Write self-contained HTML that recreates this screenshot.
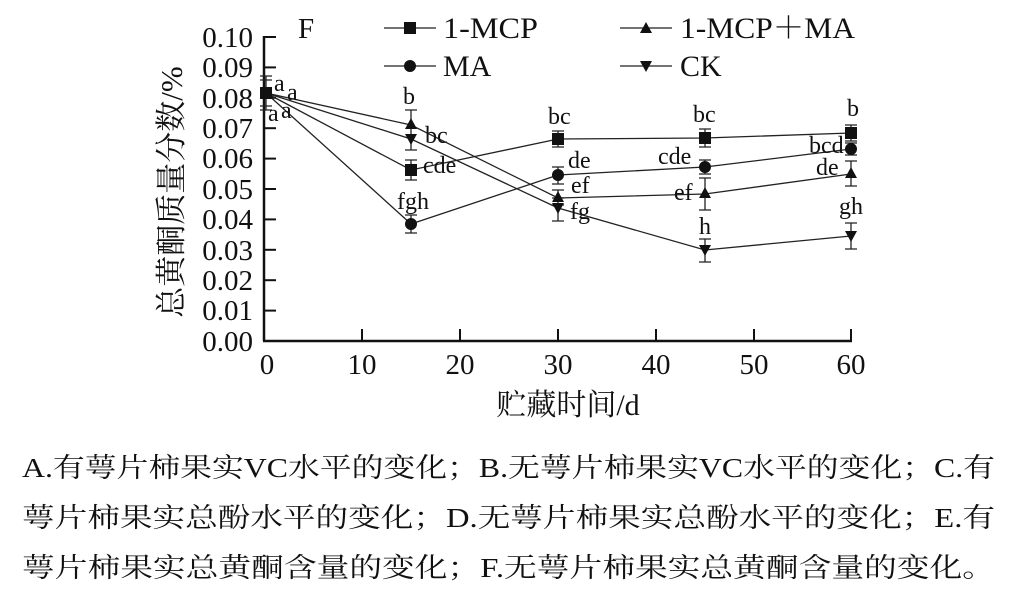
<!DOCTYPE html>
<html><head><meta charset="utf-8"><style>
html,body{margin:0;padding:0;background:#fff}
svg{display:block}
text{font-family:"Liberation Serif","Noto Serif CJK SC",serif;fill:#111}
</style></head><body>
<svg width="1011" height="593" viewBox="0 0 1011 593" xmlns="http://www.w3.org/2000/svg">
<g stroke="#111" stroke-width="2.5" fill="none">
<line x1="264" y1="36" x2="264" y2="341"/>
<line x1="263" y1="341" x2="852" y2="341"/>
</g>
<g stroke="#111" stroke-width="2">
<line x1="264" y1="37" x2="276" y2="37"/><line x1="264" y1="67.4" x2="276" y2="67.4"/>
<line x1="264" y1="97.8" x2="276" y2="97.8"/><line x1="264" y1="128.2" x2="276" y2="128.2"/>
<line x1="264" y1="158.6" x2="276" y2="158.6"/><line x1="264" y1="189" x2="276" y2="189"/>
<line x1="264" y1="219.4" x2="276" y2="219.4"/><line x1="264" y1="249.8" x2="276" y2="249.8"/>
<line x1="264" y1="280.2" x2="276" y2="280.2"/><line x1="264" y1="310.6" x2="276" y2="310.6"/>
<line x1="362" y1="329" x2="362" y2="341"/><line x1="460" y1="329" x2="460" y2="341"/>
<line x1="558" y1="329" x2="558" y2="341"/><line x1="656" y1="329" x2="656" y2="341"/>
<line x1="754" y1="329" x2="754" y2="341"/><line x1="851" y1="329" x2="851" y2="341"/>
</g>
<g font-size="29" text-anchor="end">
<text x="253" y="47">0.10</text><text x="253" y="77">0.09</text><text x="253" y="108">0.08</text>
<text x="253" y="138">0.07</text><text x="253" y="168">0.06</text><text x="253" y="199">0.05</text>
<text x="253" y="229">0.04</text><text x="253" y="260">0.03</text><text x="253" y="290">0.02</text>
<text x="253" y="320">0.01</text><text x="253" y="351">0.00</text>
</g>
<g font-size="29" text-anchor="middle">
<text x="267" y="374">0</text><text x="362" y="374">10</text><text x="460" y="374">20</text>
<text x="558" y="374">30</text><text x="656" y="374">40</text><text x="754" y="374">50</text><text x="851" y="374">60</text>
<text x="568" y="415" font-size="30">贮藏时间/d</text>
</g>
<text transform="translate(182,192) rotate(-90)" font-size="31" text-anchor="middle">总黄酮质量分数/%</text>
<text x="298" y="38" font-size="29">F</text>
<g stroke="#222" stroke-width="1.3" fill="none">
<polyline points="266,93 411,170 558,139 705,138 851,133"/>
<polyline points="266,93 411,224 558,175 705,167 851,149"/>
<polyline points="266,93 411,125 558,198 705,194 851,174"/>
<polyline points="266,93 411,139 558,208 705,250 851,236"/>
<path d="M266,76V110M260,76H272M260,80H272M260,106H272M260,110H272
M411,110V150M405,110H417M405,150H417
M411,160V180M405,160H417M405,180H417
M411,215V233M405,215H417M405,233H417
M558,131V147M552,131H564M552,147H564
M558,167V184M552,167H564M552,184H564
M558,190V205M552,190H564M552,205H564
M558,198V221M552,198H564M552,221H564
M705,129V147M699,129H711M699,147H711
M705,160V174M699,160H711M699,174H711
M705,178V210M699,178H711M699,210H711
M705,239V262M699,239H711M699,262H711
M851,125V141M845,125H857M845,141H857
M851,143V155M845,143H857M845,155H857
M851,161V186M845,161H857M845,186H857
M851,223V249M845,223H857M845,249H857
M384,28H436M620,28H672M384,66H436M620,66H672"/>
</g>
<g fill="#111">
<rect x="260" y="87" width="12" height="12"/><rect x="405" y="164" width="12" height="12"/>
<rect x="552" y="133" width="12" height="12"/><rect x="699" y="132" width="12" height="12"/>
<rect x="845" y="127" width="12" height="12"/><rect x="404" y="22" width="12" height="12"/>
<circle cx="411" cy="224" r="6"/><circle cx="558" cy="175" r="6"/><circle cx="705" cy="167" r="6"/><circle cx="851" cy="149" r="6"/><circle cx="410" cy="66" r="6"/>
<path d="M411,118l6,11h-12z M558,191l6,11h-12z M705,187l6,11h-12z M851,167l6,11h-12z M646,22l6,11h-12z"/>
<path d="M405,134h12l-6,11z M552,203h12l-6,11z M699,245h12l-6,11z M845,231h12l-6,11z M640,61h12l-6,11z"/>
</g>
<g font-size="30">
<text x="443" y="38" textLength="95" lengthAdjust="spacingAndGlyphs">1-MCP</text><text x="680" y="38" textLength="175" lengthAdjust="spacingAndGlyphs">1-MCP＋MA</text>
<text x="443" y="76">MA</text><text x="680" y="76">CK</text>
</g>
<g font-size="24">
<text x="274" y="91">a</text><text x="287" y="100">a</text><text x="268" y="121">a</text><text x="281" y="118">a</text>
<text x="403" y="104">b</text><text x="425" y="143">bc</text><text x="423" y="173">cde</text><text x="397" y="209">fgh</text>
<text x="548" y="124">bc</text><text x="568" y="168">de</text><text x="571" y="193">ef</text><text x="570" y="219">fg</text>
<text x="693" y="122">bc</text><text x="658" y="164">cde</text><text x="674" y="200">ef</text><text x="699" y="234">h</text>
<text x="847" y="116">b</text><text x="809" y="153">bcd</text><text x="816" y="175">de</text><text x="839" y="214">gh</text>
</g>
<g font-size="27">
<text x="22" y="477" textLength="973" lengthAdjust="spacingAndGlyphs">A.有萼片柿果实VC水平的变化；B.无萼片柿果实VC水平的变化；C.有</text>
<text x="22" y="527" textLength="973" lengthAdjust="spacingAndGlyphs">萼片柿果实总酚水平的变化；D.无萼片柿果实总酚水平的变化；E.有</text>
<text x="22" y="577" textLength="973" lengthAdjust="spacingAndGlyphs">萼片柿果实总黄酮含量的变化；F.无萼片柿果实总黄酮含量的变化。</text>
</g>
</svg>
</body></html>
